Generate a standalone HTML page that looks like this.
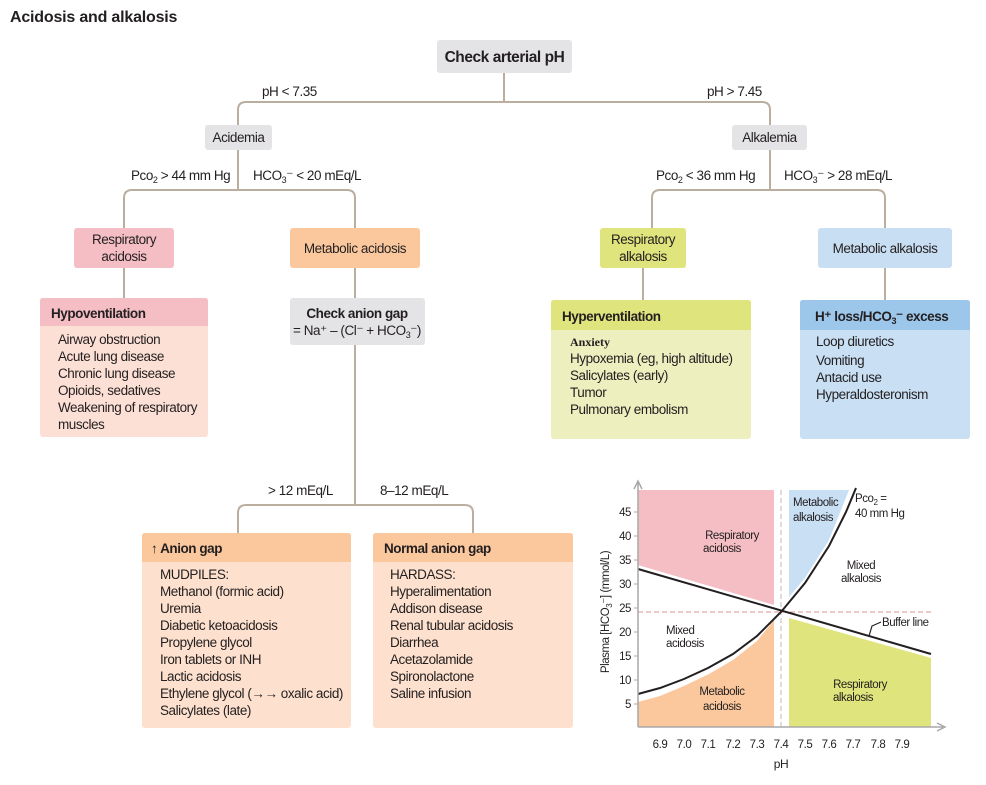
<!DOCTYPE html>
<html><head><meta charset="utf-8"><style>
html,body{margin:0;padding:0;background:#fff}
svg{display:block}
text{font-family:"Liberation Sans Narrow","Liberation Sans",sans-serif;fill:#231f20;font-size:13.5px;letter-spacing:-0.45px}
.b{font-weight:bold}
.c{stroke:#bcae9e;stroke-width:2;fill:none}
</style></head><body>
<svg width="986" height="785" viewBox="0 0 986 785" xmlns="http://www.w3.org/2000/svg">
<text x="10" y="22" class="b" style="font-family:'Liberation Sans',sans-serif;font-size:16px;letter-spacing:-0.2px">Acidosis and alkalosis</text>

<path class="c" d="M504 73V102 M238 125V110Q238 102 246 102H762Q770 102 770 110V125"/>
<path class="c" d="M238 150V190 M124 228V198Q124 190 132 190H347Q355 190 355 198V228"/>
<path class="c" d="M770 150V190 M652 228V198Q652 190 660 190H877Q885 190 885 198V228"/>
<path class="c" d="M124 268V298 M355 268V298 M643 268V300 M885 268V300"/>
<path class="c" d="M355 345V505 M238 533V513Q238 505 246 505H465Q473 505 473 513V533"/>

<rect x="437" y="40" width="135" height="33" rx="3" fill="#e4e3e6"/>
<text x="504.5" y="62" text-anchor="middle" class="b" style="font-size:15.5px">Check arterial pH</text>
<text x="262" y="96">pH &lt; 7.35</text>
<text x="707" y="96">pH &gt; 7.45</text>
<rect x="205" y="125" width="67" height="25" rx="3" fill="#e4e3e6"/>
<text x="238.5" y="142" text-anchor="middle">Acidemia</text>
<rect x="732" y="125" width="75" height="25" rx="3" fill="#e4e3e6"/>
<text x="769.5" y="142" text-anchor="middle">Alkalemia</text>

<text x="131" y="180">Pco<tspan font-size="9" dy="3">2</tspan><tspan dy="-3"> &gt; 44 mm Hg</tspan></text>
<text x="253" y="180">HCO<tspan font-size="9" dy="3">3</tspan><tspan dy="-3">⁻ &lt; 20 mEq/L</tspan></text>
<text x="656" y="180">Pco<tspan font-size="9" dy="3">2</tspan><tspan dy="-3"> &lt; 36 mm Hg</tspan></text>
<text x="784" y="180">HCO<tspan font-size="9" dy="3">3</tspan><tspan dy="-3">⁻ &gt; 28 mEq/L</tspan></text>

<rect x="74" y="228" width="100" height="40" rx="3" fill="#f4bec4"/>
<text x="124" y="244" text-anchor="middle">Respiratory</text>
<text x="124" y="261" text-anchor="middle">acidosis</text>
<rect x="290" y="228" width="130" height="40" rx="3" fill="#fbc89e"/>
<text x="355" y="253" text-anchor="middle">Metabolic acidosis</text>
<rect x="600" y="228" width="86" height="40" rx="3" fill="#dfe47c"/>
<text x="643" y="244" text-anchor="middle">Respiratory</text>
<text x="643" y="261" text-anchor="middle">alkalosis</text>
<rect x="818" y="228" width="134" height="40" rx="3" fill="#c8dff3"/>
<text x="885" y="253" text-anchor="middle">Metabolic alkalosis</text>

<rect x="40" y="298" width="168" height="139" rx="3" fill="#fde0d5"/>
<path d="M43 298H205Q208 298 208 301V326H40V301Q40 298 43 298Z" fill="#f4bec4"/>
<text x="51" y="318" class="b">Hypoventilation</text>
<text x="58" y="344">Airway obstruction</text>
<text x="58" y="361">Acute lung disease</text>
<text x="58" y="378">Chronic lung disease</text>
<text x="58" y="395">Opioids, sedatives</text>
<text x="58" y="412">Weakening of respiratory</text>
<text x="58" y="429">muscles</text>

<rect x="290" y="298" width="135" height="47" rx="3" fill="#e4e3e6"/>
<text x="357" y="318" text-anchor="middle" class="b">Check anion gap</text>
<text x="357" y="335" text-anchor="middle">= Na⁺ – (Cl⁻ + HCO<tspan font-size="9" dy="3">3</tspan><tspan dy="-3">⁻)</tspan></text>

<rect x="551" y="300" width="200" height="139" rx="3" fill="#edefbf"/>
<path d="M554 300H748Q751 300 751 303V330H551V303Q551 300 554 300Z" fill="#dfe47c"/>
<text x="562" y="321" class="b">Hyperventilation</text>
<text x="570" y="346" style="font-family:'Liberation Serif',serif;font-weight:bold;font-size:12px;letter-spacing:0">Anxiety</text>
<text x="570" y="363">Hypoxemia (eg, high altitude)</text>
<text x="570" y="380">Salicylates (early)</text>
<text x="570" y="397">Tumor</text>
<text x="570" y="414">Pulmonary embolism</text>

<rect x="800" y="300" width="170" height="139" rx="3" fill="#c8dff4"/>
<path d="M803 300H967Q970 300 970 303V330H800V303Q800 300 803 300Z" fill="#9cc6ea"/>
<text x="815" y="321" class="b">H⁺ loss/HCO<tspan font-size="9" dy="3">3</tspan><tspan dy="-3">⁻ excess</tspan></text>
<text x="816" y="346">Loop diuretics</text>
<text x="816" y="365">Vomiting</text>
<text x="816" y="382">Antacid use</text>
<text x="816" y="399">Hyperaldosteronism</text>

<text x="268" y="495">&gt; 12 mEq/L</text>
<text x="380" y="495">8–12 mEq/L</text>

<rect x="142" y="533" width="209" height="195" rx="3" fill="#fde0cd"/>
<path d="M145 533H348Q351 533 351 536V562H142V536Q142 533 145 533Z" fill="#fbc89e"/>
<text x="151" y="553" class="b">↑ Anion gap</text>
<text x="160" y="579">MUDPILES:</text>
<text x="160" y="596">Methanol (formic acid)</text>
<text x="160" y="613">Uremia</text>
<text x="160" y="630">Diabetic ketoacidosis</text>
<text x="160" y="647">Propylene glycol</text>
<text x="160" y="664">Iron tablets or  INH</text>
<text x="160" y="681">Lactic acidosis</text>
<text x="160" y="698">Ethylene glycol (→→ oxalic acid)</text>
<text x="160" y="715">Salicylates (late)</text>
<rect x="373" y="533" width="200" height="195" rx="3" fill="#fde0cd"/>
<path d="M376 533H570Q573 533 573 536V562H373V536Q373 533 376 533Z" fill="#fbc89e"/>
<text x="384" y="553" class="b">Normal anion gap</text>
<text x="390" y="579">HARDASS:</text>
<text x="390" y="596">Hyperalimentation</text>
<text x="390" y="613">Addison disease</text>
<text x="390" y="630">Renal tubular acidosis</text>
<text x="390" y="647">Diarrhea</text>
<text x="390" y="664">Acetazolamide</text>
<text x="390" y="681">Spironolactone</text>
<text x="390" y="698">Saline infusion</text>

<g>
<polygon points="638,490 774,490 774,605 638,565" fill="#f4bec4"/>
<polygon points="638,727 774,727 774,620 757,641 733,660 709,674 684,686 660,696 638,702" fill="#fbc89e"/>
<polygon points="789,490 849,490 829,540 805,578 789,597" fill="#c8dff4"/>
<polygon points="789,618 931,658 931,727 789,727" fill="#dfe47c"/>
<line x1="781" y1="490" x2="781" y2="727" stroke="#c8c4c4" stroke-width="1.2" stroke-dasharray="5,3"/>
<line x1="638" y1="612" x2="931" y2="612" stroke="#e8a8a0" stroke-width="1.2" stroke-dasharray="5,3"/>
<line x1="638" y1="569" x2="931" y2="654" stroke="#231f20" stroke-width="2"/>
<path d="M638 694 L660 688 L684 679 L708 668 L733 654 L757 636 L781 612 L805 583 L829 546 L846 512 L856 488" fill="none" stroke="#231f20" stroke-width="2"/>
<path d="M638 727V483 M634 489 L638 481 L642 489" fill="none" stroke="#a8a8a8" stroke-width="1.5"/>
<path d="M638 727H943 M937 723 L945 727 L937 731" fill="none" stroke="#a8a8a8" stroke-width="1.5"/>
<g style="font-size:11.5px">
<text x="631" y="516" text-anchor="end" style="font-size:11.5px">45</text>
<text x="631" y="540" text-anchor="end" style="font-size:11.5px">40</text>
<text x="631" y="564" text-anchor="end" style="font-size:11.5px">35</text>
<text x="631" y="588" text-anchor="end" style="font-size:11.5px">30</text>
<text x="631" y="612" text-anchor="end" style="font-size:11.5px">25</text>
<text x="631" y="636" text-anchor="end" style="font-size:11.5px">20</text>
<text x="631" y="660" text-anchor="end" style="font-size:11.5px">15</text>
<text x="631" y="684" text-anchor="end" style="font-size:11.5px">10</text>
<text x="631" y="708" text-anchor="end" style="font-size:11.5px">5</text>
</g>
<path d="M634 512H638 M634 536H638 M634 560H638 M634 584H638 M634 608H638 M634 632H638 M634 656H638 M634 680H638 M634 704H638" stroke="#a8a8a8" stroke-width="1"/>
<text x="660" y="748" text-anchor="middle" style="font-size:11.5px">6.9</text>
<text x="684" y="748" text-anchor="middle" style="font-size:11.5px">7.0</text>
<text x="708" y="748" text-anchor="middle" style="font-size:11.5px">7.1</text>
<text x="733" y="748" text-anchor="middle" style="font-size:11.5px">7.2</text>
<text x="757" y="748" text-anchor="middle" style="font-size:11.5px">7.3</text>
<text x="781" y="748" text-anchor="middle" style="font-size:11.5px">7.4</text>
<text x="805" y="748" text-anchor="middle" style="font-size:11.5px">7.5</text>
<text x="829" y="748" text-anchor="middle" style="font-size:11.5px">7.6</text>
<text x="853" y="748" text-anchor="middle" style="font-size:11.5px">7.7</text>
<text x="878" y="748" text-anchor="middle" style="font-size:11.5px">7.8</text>
<text x="902" y="748" text-anchor="middle" style="font-size:11.5px">7.9</text>
<text x="781" y="768" text-anchor="middle" style="font-size:12px">pH</text>
<text transform="translate(609,612) rotate(-90)" text-anchor="middle" style="font-size:11.5px">Plasma [HCO<tspan font-size="8" dy="3">3</tspan><tspan dy="-3">⁻] (mmol/L)</tspan></text>
<text x="732" y="539" text-anchor="middle" style="font-size:11.5px">Respiratory</text>
<text x="722" y="552" text-anchor="middle" style="font-size:11.5px">acidosis</text>
<text x="793" y="506" style="font-size:11.5px">Metabolic</text>
<text x="793" y="521" style="font-size:11.5px">alkalosis</text>
<text x="855" y="502" style="font-size:11.5px">Pco<tspan font-size="8" dy="3">2</tspan><tspan dy="-3"> =</tspan></text>
<text x="855" y="517" style="font-size:11.5px">40 mm Hg</text>
<text x="861" y="569" text-anchor="middle" style="font-size:11.5px">Mixed</text>
<text x="861" y="582" text-anchor="middle" style="font-size:11.5px">alkalosis</text>
<text x="666" y="634" style="font-size:11.5px">Mixed</text>
<text x="666" y="647" style="font-size:11.5px">acidosis</text>
<text x="722" y="695" text-anchor="middle" style="font-size:11.5px">Metabolic</text>
<text x="722" y="710" text-anchor="middle" style="font-size:11.5px">acidosis</text>
<text x="860" y="688" text-anchor="middle" style="font-size:11.5px">Respiratory</text>
<text x="853" y="701" text-anchor="middle" style="font-size:11.5px">alkalosis</text>
<path d="M869 636 L872 626 L881 622" fill="none" stroke="#231f20" stroke-width="1.2"/>
<text x="882" y="626" style="font-size:11.5px">Buffer line</text>
</g>
</svg>
</body></html>
